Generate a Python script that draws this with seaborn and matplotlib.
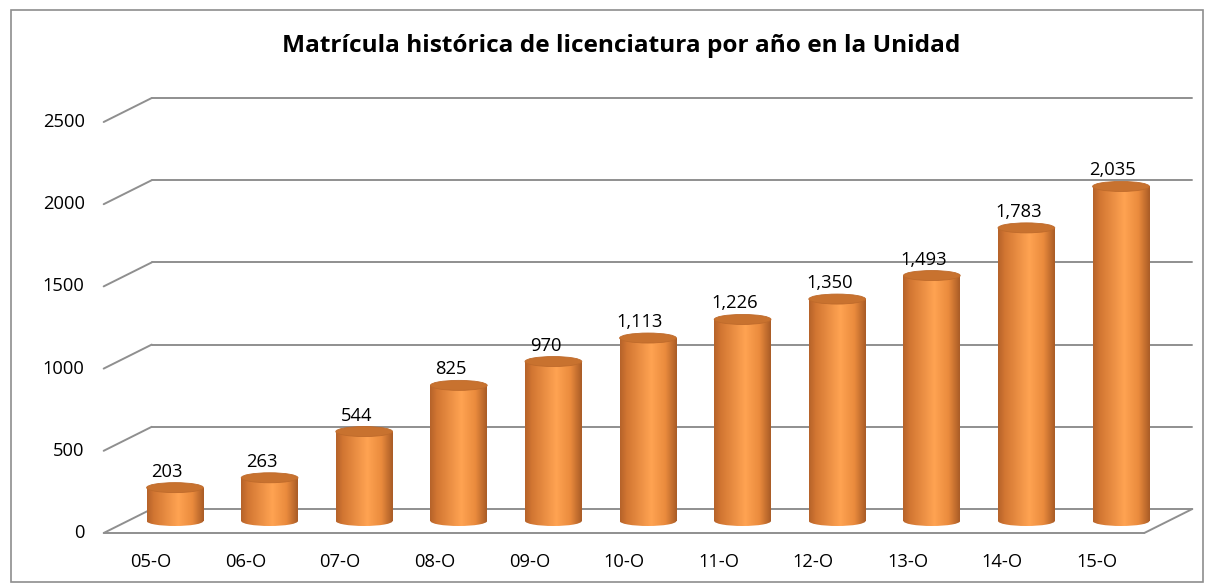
import numpy as np
import pandas as pd
import matplotlib
matplotlib.use("Agg")
import matplotlib.pyplot as plt
import seaborn as sns
from matplotlib.patches import Ellipse, Rectangle
from matplotlib.colors import LinearSegmentedColormap

# ---------------- data ----------------
categories = ["05-O", "06-O", "07-O", "08-O", "09-O", "10-O",
              "11-O", "12-O", "13-O", "14-O", "15-O"]
values = [203, 263, 544, 825, 970, 1113, 1226, 1350, 1493, 1783, 2035]
value_labels = ["203", "263", "544", "825", "970", "1,113", "1,226",
                "1,350", "1,493", "1,783", "2,035"]
y_ticks = [0, 500, 1000, 1500, 2000, 2500]
title = "Matrícula histórica de licenciatura por año en la Unidad"

# ---------------- style ----------------
sns.set_theme(style="white")
plt.rcParams["font.family"] = ["Open Sans", "DejaVu Sans"]

W, H = 1214, 585
fig = plt.figure(figsize=(W / 100, H / 100), dpi=100)
fig.patch.set_facecolor("white")

# pixel geometry of the bar plane
PX_X0, PX_PER_CAT = 175.0, 94.6
PX_Y0, PX_PER_UNIT = 521.0, 0.1644
XLIM = (-0.9, 10.8)
YLIM = (-120, 2700)
left_px = PX_X0 + XLIM[0] * PX_PER_CAT
right_px = PX_X0 + XLIM[1] * PX_PER_CAT
top_px = PX_Y0 - YLIM[1] * PX_PER_UNIT
bottom_px = PX_Y0 - YLIM[0] * PX_PER_UNIT
ax = fig.add_axes([left_px / W, 1 - bottom_px / H,
                   (right_px - left_px) / W, (bottom_px - top_px) / H])

DX = 0.254            # half depth (categories)
DY = 12 / PX_PER_UNIT  # half depth (value units)
EH = 10 / PX_PER_UNIT  # ellipse height for cylinder faces
BAR_W = 0.6
FS = 13.2

df = pd.DataFrame({"periodo": categories, "matricula": values})
sns.barplot(data=df, x="periodo", y="matricula", ax=ax, width=BAR_W,
            color="#F0903F", saturation=1, edgecolor="none", zorder=2)

# ---------------- 3D-like walls / gridlines ----------------
gcol, glw = "#8F8F8F", 1.4
n = len(categories)
for v in y_ticks:
    ax.plot([-0.5 - DX, -0.5 + DX], [v - DY, v + DY], color=gcol, lw=glw, zorder=1)
    ax.plot([-0.5 + DX, n - 0.5 + DX], [v + DY, v + DY], color=gcol, lw=glw, zorder=1)
    ax.annotate(f"{v}", xy=(-0.5 - DX, v - DY), xytext=(-19, 0),
                textcoords="offset pixels", ha="right", va="center",
                fontsize=FS, color="black")
# floor front edge and right edge
ax.plot([-0.5 - DX, n - 0.5 - DX], [-DY, -DY], color=gcol, lw=glw, zorder=1)
ax.plot([n - 0.5 - DX, n - 0.5 + DX], [-DY, DY], color=gcol, lw=glw, zorder=1)

# ---------------- cylinder shading ----------------
cmap = LinearSegmentedColormap.from_list(
    "cyl", [(0.0, "#B5622A"), (0.12, "#D27632"), (0.55, "#FFA352"),
            (0.8, "#EA8B3D"), (1.0, "#A95B26")])
grad = np.linspace(0, 1, 256)[None, :]
bars = list(ax.patches)
for p, lab in zip(bars, value_labels):
    x0, w, h = p.get_x(), p.get_width(), p.get_height()
    cx = x0 + w / 2
    im = ax.imshow(grad, cmap=cmap, extent=(x0, x0 + w, 0, h),
                   aspect="auto", zorder=3, interpolation="bicubic")
    im.set_clip_path(p)
    e_bot = Ellipse((cx, 0), w, EH, facecolor="none", edgecolor="none")
    ax.add_patch(e_bot)
    im2 = ax.imshow(grad, cmap=cmap, extent=(x0, x0 + w, -EH / 2, 0),
                    aspect="auto", zorder=3, interpolation="bicubic")
    im2.set_clip_path(e_bot)
    e_top = Ellipse((cx, h), w, EH, facecolor="#C8722F", edgecolor="#BE6A2B",
                    lw=0.6, zorder=4)
    ax.add_patch(e_top)
    ax.annotate(lab, xy=(cx, h), xytext=(-8, 11), textcoords="offset pixels",
                ha="center", va="baseline", fontsize=FS, color="black",
                zorder=5)

# ---------------- axes cosmetics ----------------
ax.set_xlim(*XLIM)
ax.set_ylim(*YLIM)
ax.set_xticks([i - DX for i in range(n)], categories)
ax.set_yticks([])
ax.tick_params(axis="x", length=0, pad=9, labelsize=FS, colors="black")
ax.set_xlabel("")
ax.set_ylabel("")
for s in ax.spines.values():
    s.set_visible(False)
ax.set_facecolor("none")

fig.text(621.5 / W, 1 - 46 / H, title, ha="center", va="center",
         fontsize=17.6, fontweight="bold", color="black")
fig.add_artist(Rectangle((11 / W, 1 - 582 / H), (1203 - 11) / W, (582 - 10) / H,
                         transform=fig.transFigure, fill=False,
                         edgecolor="#8E8E8E", lw=1.2))

fig.savefig("out.png", dpi=100)
